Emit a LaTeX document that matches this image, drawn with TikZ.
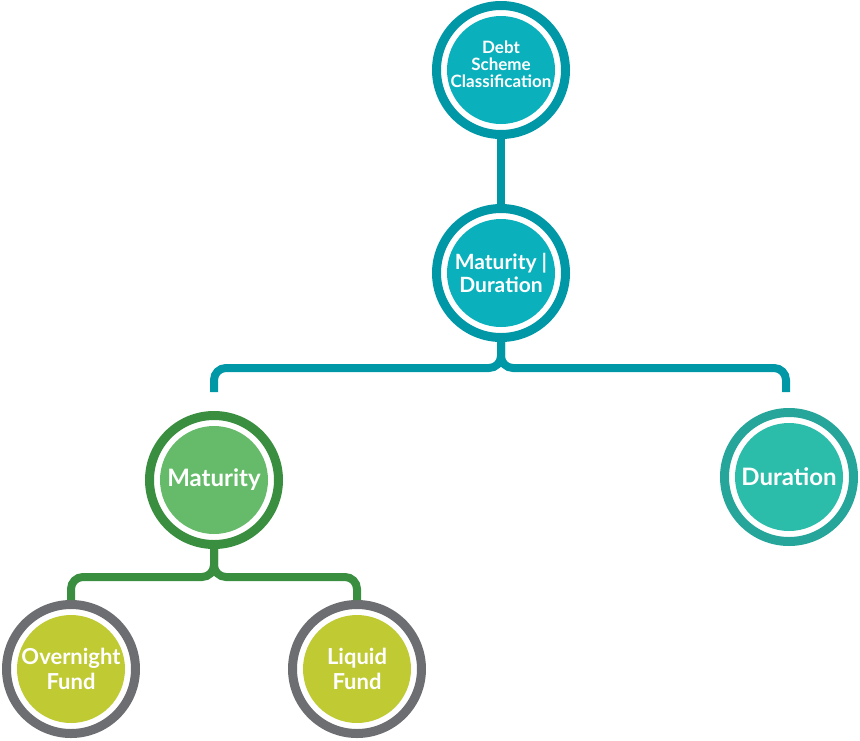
\documentclass[tikz,border=0pt]{standalone}
\usepackage{fontspec}
\setmainfont{Lato}
\usetikzlibrary{calc}
\definecolor{tealring}{RGB}{0,151,167}
\definecolor{tealfill}{RGB}{10,177,188}
\definecolor{greenring}{RGB}{58,142,64}
\definecolor{greenfill}{RGB}{102,187,106}
\definecolor{durring}{RGB}{38,166,154}
\definecolor{durfill}{RGB}{43,189,170}
\definecolor{grayring}{RGB}{109,110,113}
\definecolor{limefill}{RGB}{192,202,51}

\begin{document}
\begin{tikzpicture}[x=1pt,y=-1pt,
  bubble/.style 2 args={circle,draw=#1,line width=9pt,fill=white,minimum size=129pt,inner sep=0pt,
    path picture={\fill[#2] (path picture bounding box.center) circle (54pt);},
    text=white,font=\bfseries,align=center},
  link/.style={#1,line width=8pt,rounded corners=12pt}]
\useasboundingbox (0,0) rectangle (860,740);
\node[bubble={tealring}{tealfill},font=\bfseries\fontsize{17}{17}\selectfont,text depth=12pt] (D) at (501,70) {Debt\\Scheme\\Classification};
\node[bubble={tealring}{tealfill},font=\bfseries\fontsize{21}{23}\selectfont] (MD) at (501,273) {Maturity |\\Duration};
\node[bubble={greenring}{greenfill},font=\bfseries\fontsize{24}{25}\selectfont] (M) at (214,480) {Maturity};
\node[bubble={durring}{durfill},font=\bfseries\fontsize{24}{25}\selectfont] (Du) at (789,477) {Duration};
\node[bubble={grayring}{limefill},font=\bfseries\fontsize{22}{25}\selectfont] (O) at (71,669) {Overnight\\Fund};
\node[bubble={grayring}{limefill},font=\bfseries\fontsize{22}{25}\selectfont] (L) at (357,669) {Liquid\\Fund};
% free ends of the teal bracket
\coordinate (Mt) at (214,392);
\coordinate (Dut) at (786,392);
\draw[link=tealring] (D) -- (MD);
\draw[link=tealring] (MD.south) |- (Mt |- 0,368) -- (Mt);
\draw[link=tealring] (MD.south) |- (Dut |- 0,368) -- (Dut);
\draw[link=greenring] (M.south) |- (O.north |- 0,577) -- (O.north);
\draw[link=greenring] (M.south) |- (L.north |- 0,577) -- (L.north);
\end{tikzpicture}
\end{document}
